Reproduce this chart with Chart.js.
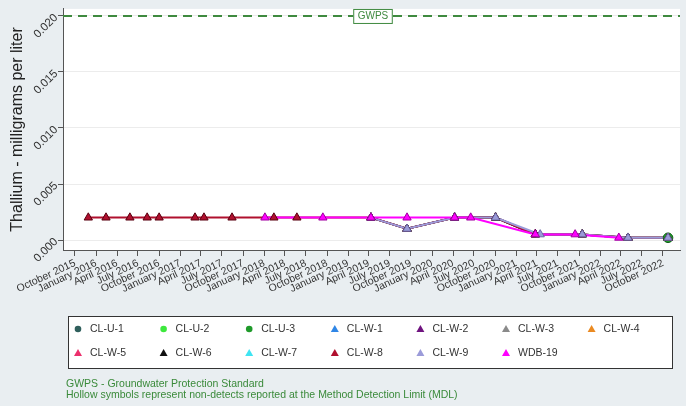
<!DOCTYPE html>
<html><head><meta charset="utf-8">
<script src="https://cdn.jsdelivr.net/npm/chart.js@4/dist/chart.umd.min.js"></script>
<style>html,body{margin:0;padding:0;background:#e9eef1;}#wrap{width:686px;height:406px;position:relative;}</style>
</head><body><div id="wrap"><canvas id="c"></canvas></div>
<script>
// ---------------- data ----------------
const tickLabels = ['October 2015','January 2016','April 2016','July 2016','October 2016','January 2017','April 2017','July 2017','October 2017','January 2018','April 2018','July 2018','October 2018','January 2019','April 2019','July 2019','October 2019','January 2020','April 2020','July 2020','October 2020','January 2021','April 2021','July 2021','October 2021','January 2022','April 2022','July 2022','October 2022'];
const yTicks = [0, 0.005, 0.010, 0.015, 0.020];
const gwps = 0.020;

const seriesNames = ['CL-U-1','CL-U-2','CL-U-3','CL-W-1','CL-W-2','CL-W-3','CL-W-4','CL-W-5','CL-W-6','CL-W-7','CL-W-8','CL-W-9','WDB-19'];

const clw8Dates  = ['2015-11-28','2016-02-13','2016-05-27','2016-08-10','2016-10-01','2017-03-06','2017-04-14','2017-08-14','2018-02-12','2018-05-23','2019-04-10','2019-09-14','2020-04-08','2020-10-03','2021-03-25','2021-10-15','2022-05-02','2022-10-23'];
const clw8Values = [0.002,0.002,0.002,0.002,0.002,0.002,0.002,0.002,0.002,0.002,0.002,0.001,0.002,0.002,0.0005,0.0005,0.0002,0.0002];

const laterDates  = ['2019-04-10','2019-09-14','2020-04-08','2020-10-03','2021-03-25','2021-10-15','2022-05-02','2022-10-23'];
const clw2Values  = [0.002,0.001,0.002,0.002,0.0005,0.0005,0.0002,0.0002];
const clw3Values  = [0.002,0.001,0.002,0.002,0.0005,0.0005,0.0002,0.0002];
const clw6Values  = [0.002,0.001,0.002,0.002,0.0005,0.0005,0.0002,0.0002];
const clw9Dates   = ['2019-04-10','2019-09-14','2020-04-08','2020-10-03','2021-04-15','2021-10-15','2022-05-02','2022-10-23'];
const clw9Values  = [0.002,0.001,0.002,0.002,0.0005,0.0005,0.0002,0.0002];
const clu3Dates   = ['2022-10-23'];
const clu3Values  = [0.0002];

const wdb19Dates  = ['2018-01-04','2018-09-13','2019-04-10','2019-09-14','2020-04-08','2020-06-17','2021-03-25','2021-09-14','2022-03-23'];
const wdb19Values = [0.002,0.002,0.002,0.002,0.002,0.002,0.0005,0.0005,0.0002];

// ---------------- styles ----------------
const seriesColors = ['#2f5f5c','#3de83d','#1f9a2a','#2f86e6','#6f137f','#8a8a8a','#ea8a22','#ec2f6c','#111111','#3fe4f2','#b0102e','#9b9bd9','#ff00ff'];
const seriesBorders = ['#1c3c3a','#22a022','#116018','#1a5aa0','#40084a','#555555','#a05a10','#a01a48','#000000','#20a0b0','#5a0010','#6a6aa8','#a000a0'];
const seriesShapes = ['circle','circle','circle','triangle','triangle','triangle','triangle','triangle','triangle','triangle','triangle','triangle','triangle'];

// ---------------- helpers ----------------
const BASE = Date.UTC(2015,9,1);
const dayOf = s => (Date.UTC(+s.slice(0,4), +s.slice(5,7)-1, +s.slice(8,10)) - BASE)/86400000;
const months = {January:0,February:1,March:2,April:3,May:4,June:5,July:6,August:7,September:8,October:9,November:10,December:11};
const tickDay = lbl => { const [m,y] = lbl.split(' '); return (Date.UTC(+y, months[m], 1) - BASE)/86400000; };
const tickDays = tickLabels.map(tickDay);
const pts = (d, v) => d.map((s,i) => ({x: dayOf(s), y: v[i]}));

const seriesData = {
  'CL-U-1': [], 'CL-U-2': [], 'CL-U-3': pts(clu3Dates, clu3Values),
  'CL-W-1': [], 'CL-W-2': pts(laterDates, clw2Values), 'CL-W-3': pts(laterDates, clw3Values),
  'CL-W-4': [], 'CL-W-5': [], 'CL-W-6': pts(laterDates, clw6Values), 'CL-W-7': [],
  'CL-W-8': pts(clw8Dates, clw8Values), 'CL-W-9': pts(clw9Dates, clw9Values),
  'WDB-19': pts(wdb19Dates, wdb19Values)
};

const datasets = [];
seriesNames.forEach((name, i) => {
  datasets.push({ label: name, data: seriesData[name], borderColor: seriesColors[i], borderWidth: 2,
    pointRadius: 0, showLine: true, fill: false, order: 100 - i });
});
seriesNames.forEach((name, i) => {
  datasets.push({ label: name + ' pts', data: seriesData[name], showLine: false,
    pointStyle: seriesShapes[i], pointRadius: 4.8, pointBackgroundColor: seriesColors[i],
    pointBorderColor: seriesBorders[i], pointBorderWidth: 1, order: 50 - i });
});
const XMIN = -52, XMAX = 2631;
datasets.push({ label: 'GWPS', data: [{x: XMIN, y: gwps}, {x: XMAX, y: gwps}], borderColor: '#3f8a3f',
  borderWidth: 2, borderDash: [9, 6], pointRadius: 0, showLine: true, order: 0 });

const FONT = "'Liberation Sans', Arial, sans-serif";

const plotBg = {
  id: 'plotBg',
  beforeDraw(chart) {
    const {ctx, chartArea: a} = chart;
    ctx.save(); ctx.fillStyle = '#ffffff';
    ctx.fillRect(a.left, a.top, a.right - a.left, a.bottom - a.top); ctx.restore();
  }
};

const gwpsLabel = {
  id: 'gwpsLabel',
  afterDatasetsDraw(chart) {
    const {ctx, chartArea: a, scales} = chart;
    const y = scales.y.getPixelForValue(gwps);
    const cx = (a.left + a.right) / 2 + 1;
    ctx.save();
    ctx.font = '10px ' + FONT;
    const w = ctx.measureText('GWPS').width + 8;
    ctx.fillStyle = '#ffffff'; ctx.fillRect(cx - w/2, y - 7, w, 14);
    ctx.strokeStyle = '#3f8a3f'; ctx.lineWidth = 1; ctx.strokeRect(cx - w/2 + 0.5, y - 6.5, w, 14);
    ctx.fillStyle = '#3f8a3f'; ctx.textAlign = 'center'; ctx.textBaseline = 'middle';
    ctx.fillText('GWPS', cx + 0.5, y + 0.5);
    ctx.restore();
  }
};

function drawMarker(ctx, shape, x, y, fill, stroke) {
  ctx.fillStyle = fill; ctx.strokeStyle = stroke; ctx.lineWidth = 1;
  ctx.beginPath();
  if (shape === 'circle') { ctx.arc(x, y, 3.3, 0, Math.PI * 2); }
  else { ctx.moveTo(x, y - 4); ctx.lineTo(x + 4, y + 3); ctx.lineTo(x - 4, y + 3); ctx.closePath(); }
  ctx.fill();
}

const legendBox = {
  id: 'legendBox',
  afterDraw(chart) {
    const ctx = chart.ctx;
    ctx.save();
    ctx.fillStyle = '#ffffff'; ctx.fillRect(68, 316, 604, 52);
    ctx.strokeStyle = '#333333'; ctx.lineWidth = 1; ctx.strokeRect(68.5, 316.5, 604, 52);
    ctx.font = '10.5px ' + FONT; ctx.textBaseline = 'middle'; ctx.textAlign = 'left';
    seriesNames.forEach((name, i) => {
      const col = i % 7, row = Math.floor(i / 7);
      const mx = 78 + col * 85.6, my = 329 + row * 24;
      drawMarker(ctx, seriesShapes[i], mx, my, seriesColors[i], seriesBorders[i]);
      ctx.fillStyle = '#333333';
      ctx.fillText(name, mx + 12, my + 0.5);
    });
    ctx.fillStyle = '#3a8a3a'; ctx.font = '10.5px ' + FONT;
    ctx.fillText('GWPS - Groundwater Protection Standard', 66, 384);
    ctx.fillText('Hollow symbols represent non-detects reported at the Method Detection Limit (MDL)', 66, 395);
    ctx.restore();
  }
};

new Chart(document.getElementById('c'), {
  type: 'scatter',
  data: { datasets },
  plugins: [plotBg, gwpsLabel, legendBox],
  options: {
    responsive: true, maintainAspectRatio: false, animation: false,
    layout: { padding: { left: 0, right: 6, top: 0, bottom: 0 } },
    plugins: { legend: { display: false }, tooltip: { enabled: false } },
    scales: {
      x: {
        type: 'linear', min: XMIN, max: XMAX,
        afterBuildTicks: s => { s.ticks = tickDays.map(v => ({value: v})); },
        afterFit: s => { s.height = 156; },
        ticks: { autoSkip: false, minRotation: 25, maxRotation: 25, padding: 1,
          color: '#333333', font: { family: FONT, size: 10.5 },
          callback: (v, i) => tickLabels[i] },
        grid: { drawOnChartArea: false, drawTicks: true, tickLength: 6, tickColor: '#555555', tickWidth: 1 },
        border: { display: true, color: '#555555', width: 1 }
      },
      y: {
        type: 'linear', min: -0.00089, max: 0.02063,
        afterBuildTicks: s => { s.ticks = yTicks.map(v => ({value: v})); },
        afterFit: s => { s.width = 63; },
        ticks: { minRotation: 45, maxRotation: 45, padding: 2, color: '#333333',
          font: { family: FONT, size: 11.5 }, callback: v => v.toFixed(3) },
        grid: { color: '#ececec', lineWidth: 1, drawTicks: true, tickLength: 5, tickColor: '#555555' },
        border: { display: true, color: '#555555', width: 1 },
        title: { display: true, text: 'Thallium - milligrams per liter', color: '#222222',
          font: { family: FONT, size: 16 }, padding: { top: 8, bottom: 0 } }
      }
    }
  }
});
</script></body></html>
